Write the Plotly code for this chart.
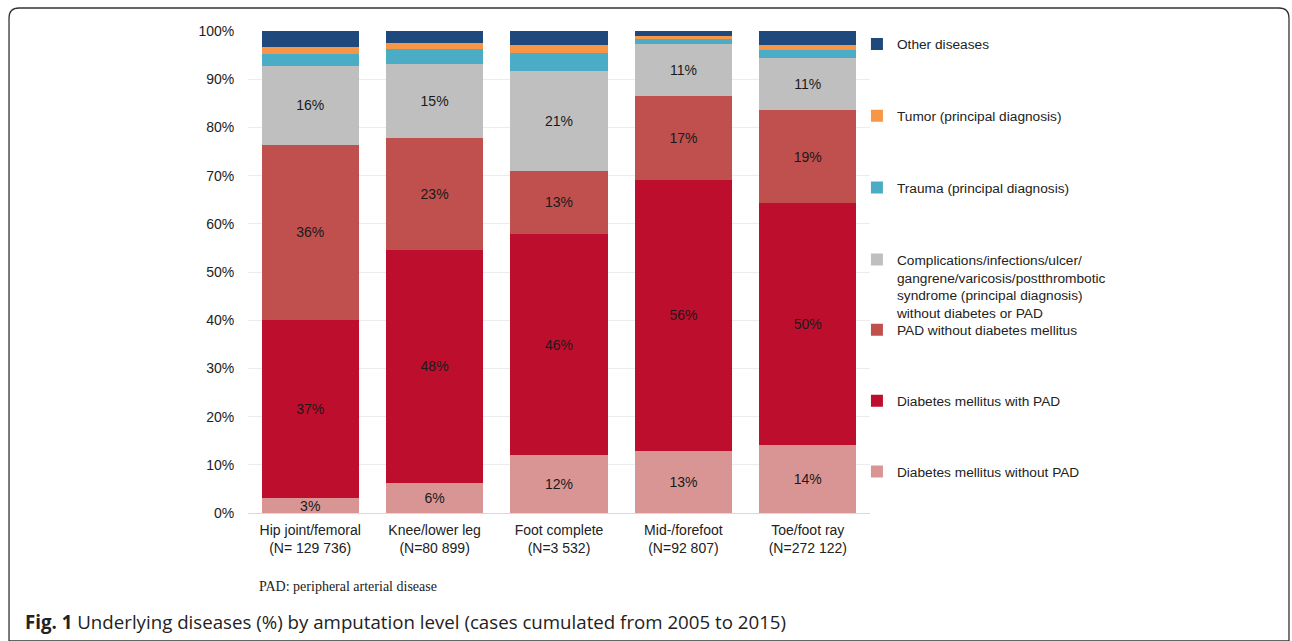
import plotly.graph_objects as go

# amputation levels (x categories)
levels = ['Hip joint/femoral<br>(N= 129 736)', 'Knee/lower leg<br>(N=80 899)',
          'Foot complete<br>(N=3 532)', 'Mid-/forefoot<br>(N=92 807)',
          'Toe/foot ray<br>(N=272 122)']

# shares in % (bottom to top of each bar)
dm_without_pad = [3.1, 6.2, 12.0, 12.9, 14.1]
dm_with_pad = [37.0, 48.4, 45.9, 56.2, 50.2]
pad_without_dm = [36.3, 23.2, 13.1, 17.4, 19.3]
complications = [16.4, 15.4, 20.8, 10.8, 10.7]
trauma = [2.4, 3.1, 3.6, 1.0, 1.8]
tumor = [1.5, 1.3, 1.6, 0.6, 0.9]
other = [3.3, 2.4, 3.0, 1.1, 3.0]

series = [
    ('Diabetes mellitus without PAD', dm_without_pad, '#d99594', True, 'legend2'),
    ('Diabetes mellitus with PAD', dm_with_pad, '#be0e2d', True, 'legend2'),
    ('PAD without diabetes mellitus', pad_without_dm, '#c0504d', True, 'legend2'),
    ('Complications/infections/ulcer/<br>gangrene/varicosis/postthrombotic<br>'
     'syndrome (principal diagnosis)<br>without diabetes or PAD',
     complications, '#bfbfbf', True, 'legend'),
    ('Trauma (principal diagnosis)', trauma, '#4bacc6', False, 'legend'),
    ('Tumor (principal diagnosis)', tumor, '#f79646', False, 'legend'),
    ('Other diseases', other, '#1f497d', False, 'legend'),
]

fig = go.Figure()
for i, (name, vals, col, labelled, leg) in enumerate(series):
    fig.add_trace(go.Bar(
        x=levels, y=vals, name=name, legend=leg, legendgroup='g%d' % i,
        legendrank=100 - i,
        marker=dict(color=col, line=dict(width=0)),
        text=vals if labelled else None,
        texttemplate='%{y:.0f}%' if labelled else None,
        textposition='inside' if labelled else 'none',
        insidetextanchor='middle', textangle=0,
        textfont=dict(color='#1a1a1a', size=14, family='Liberation Sans'),
    ))

leg_common = dict(
    xref='paper', yref='paper', xanchor='left', yanchor='top',
    traceorder='grouped', valign='top',
    font=dict(family='Liberation Sans', size=13.7, color='#222222'),
    bgcolor='rgba(0,0,0,0)', itemclick=False,
)

fig.update_layout(
    width=1292, height=641,
    margin=dict(l=248, r=422, t=31, b=128, autoexpand=False),
    barmode='stack', bargap=0.22,
    plot_bgcolor='white', paper_bgcolor='white',
    font=dict(family='Liberation Sans', size=14, color='#222222'),
    uniformtext=dict(mode='show', minsize=13),
    legend=dict(x=0.979, y=1.005, tracegroupgap=51, **leg_common),
    legend2=dict(x=0.979, y=0.412, tracegroupgap=50, **leg_common),
    xaxis=dict(showline=True, linecolor='#d9d9d9', linewidth=1,
               tickfont=dict(size=14), ticks='', ticklabelstandoff=4,
               fixedrange=True),
    yaxis=dict(range=[0, 100], dtick=10, ticksuffix='%',
               showgrid=True, gridcolor='#ececec', gridwidth=1,
               zeroline=False, ticks='outside', ticklen=10,
               tickcolor='rgba(0,0,0,0)', tickfont=dict(size=14)),
    annotations=[
        dict(xref='paper', yref='paper', x=0.014, y=-0.153,
             xanchor='left', yanchor='middle', showarrow=False,
             text='PAD: peripheral arterial disease',
             font=dict(family='Liberation Serif', size=14, color='#222222')),
        dict(xref='paper', yref='paper', x=-0.362, y=-0.226,
             xanchor='left', yanchor='middle', showarrow=False,
             text='<b>Fig. 1</b> Underlying diseases (%) by amputation level '
                  '(cases cumulated from 2005 to 2015)',
             font=dict(family='Open Sans', size=18.7, color='#222222')),
    ],
)

# rounded frame around the whole figure
fig.add_shape(type='path', xref='paper', yref='paper',
              path='M -0.3681,1.0477 L 1.6575,1.0477 Q 1.6736,1.0477 1.6736,1.0270 '
                   'L 1.6736,-0.2656 L -0.3842,-0.2656 '
                   'L -0.3842,1.0270 Q -0.3842,1.0477 -0.3681,1.0477 Z',
              line=dict(color='#333333', width=1.3), layer='below')

fig.write_html("out.html", config={'displayModeBar': False},
               post_script="document.body.style.margin='0';"
                           "document.body.style.overflow='hidden';")
